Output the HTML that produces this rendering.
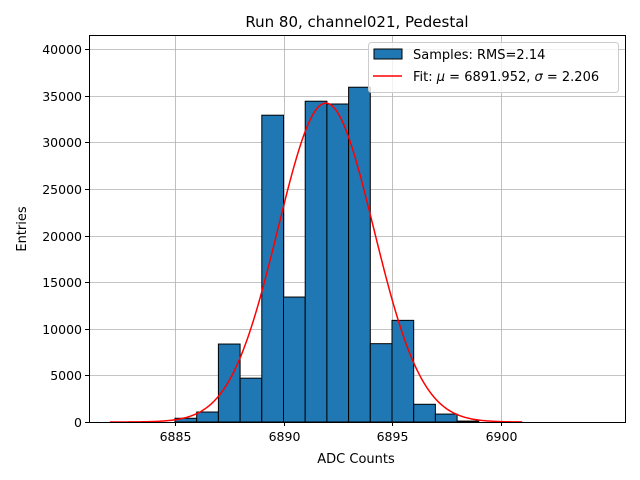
<!DOCTYPE html>
<html><head><meta charset="utf-8"><style>
body{margin:0;background:#fff;}
svg{display:block;font-family:"DejaVu Sans","Liberation Sans",sans-serif;}
</style></head><body>
<svg id="chart" width="640" height="480">
<rect width="640" height="480" fill="#fff"/>
<g id="grid"></g>
<g id="bars"></g>
<g id="fit"></g>
<rect x="89.5" y="35.5" width="536" height="387" fill="none" stroke="#000" stroke-width="1"/>
<g id="ticks" font-size="12.5" fill="#000"></g>
<text x="357" y="27" font-size="15" text-anchor="middle">Run 80, channel021, Pedestal</text>
<text x="356" y="463" font-size="13" text-anchor="middle">ADC Counts</text>
<text x="26" y="229" font-size="13" text-anchor="middle" transform="rotate(-90 26 229)">Entries</text>
<g>
<rect x="368.5" y="42.5" width="250" height="50" rx="3" fill="#fff" fill-opacity="0.8" stroke="#ccc"/>
<rect x="374" y="49" width="28" height="10" fill="#1f77b4" stroke="#000"/>
<text x="413" y="59" font-size="13">Samples: RMS=2.14</text>
<line x1="373" y1="76" x2="402" y2="76" stroke="red" stroke-width="1.5"/>
<text x="413" y="81" font-size="13">Fit: <tspan font-style="italic">μ</tspan> = 6891.952, <tspan font-style="italic">σ</tspan> = 2.206</text>
</g>
</svg>
<script>
const binStarts=[6882,6883,6884,6885,6886,6887,6888,6889,6890,6891,6892,6893,6894,6895,6896,6897,6898,6899,6900,6901,6902];
const counts=[0,0,0,400,1070,8360,4700,32900,13400,34400,34100,35900,8400,10900,1900,850,100,0,0,0,0];
const xTicks=[6885,6890,6895,6900];
const yTicks=[0,5000,10000,15000,20000,25000,30000,35000,40000];
const fitMu=[6891.952];
const fitSigma=[2.206];
const fitAmp=[34200];
const fitRange=[6882,6901];
const NS='http://www.w3.org/2000/svg';
const X=v=>175+(v-6885)*21.7;
const Y=v=>422-v*373/40000;
function mk(t,a,p){const e=document.createElementNS(NS,t);for(const k in a)e.setAttribute(k,a[k]);p.appendChild(e);return e;}
const grid=document.getElementById('grid'),bars=document.getElementById('bars'),fit=document.getElementById('fit'),ticks=document.getElementById('ticks');
xTicks.forEach(v=>{const x=Math.round(X(v))+0.5;
const g=mk('line',{x1:x,x2:x,y1:35,y2:422,stroke:'#b0b0b0','stroke-width':0.8},grid);


mk('line',{x1:x,x2:x,y1:422,y2:426,stroke:'#000'},ticks);
const t=mk('text',{x:x,y:441,'text-anchor':'middle'},ticks);t.textContent=v;

});
yTicks.forEach(v=>{const y=Math.round(Y(v))+0.5;
const g=mk('line',{x1:89,x2:625,y1:y,y2:y,stroke:'#b0b0b0','stroke-width':0.8},grid);


mk('line',{x1:85,x2:89,y1:y,y2:y,stroke:'#000'},ticks);
const t=mk('text',{x:82,y:y+4.5,'text-anchor':'end'},ticks);t.textContent=v;

});
binStarts.forEach((b,i)=>{if(counts[i]<=0)return;
const x0=X(b),x1=X(b+1),y=Y(counts[i]);
const r=mk('rect',{x:x0,y:y,width:x1-x0,height:422-y,fill:'#1f77b4',stroke:'#000','stroke-width':1},bars);

});
let d='';for(let i=0;i<=300;i++){const v=fitRange[0]+(fitRange[1]-fitRange[0])*i/300;
const c=fitAmp[0]*Math.exp(-0.5*Math.pow((v-fitMu[0])/fitSigma[0],2));
d+=(i?'L':'M')+X(v).toFixed(2)+','+Y(c).toFixed(2);}
const p=mk('path',{d:d,fill:'none',stroke:'red','stroke-width':1.5},fit);


</script>
</body></html>
